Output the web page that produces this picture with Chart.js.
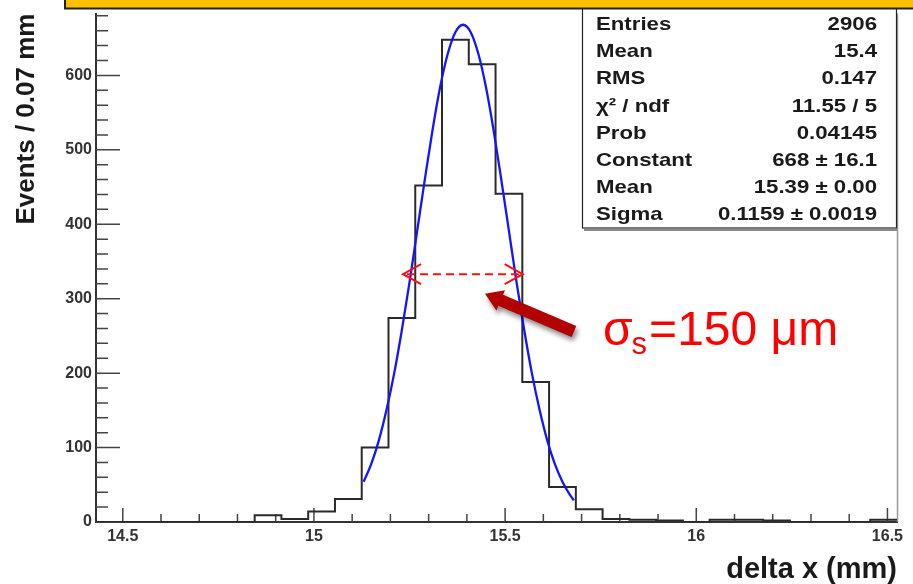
<!DOCTYPE html>
<html>
<head>
<meta charset="utf-8">
<script src="https://cdn.jsdelivr.net/npm/chart.js@4.4.1/dist/chart.umd.min.js"></script>
<style>
  html, body { margin: 0; padding: 0; background: #ffffff; }
  canvas { display: block; }
</style>
</head>
<body>
<canvas id="c" width="913" height="584"></canvas>
<script>
// ---------- DATA ----------
// histogram bin edges (delta x, mm), 0.07 mm bins
const binEdges = [14.425, 14.495, 14.565, 14.635, 14.705, 14.775, 14.845, 14.915, 14.985, 15.055,
                  15.125, 15.195, 15.265, 15.335, 15.405, 15.475, 15.545, 15.615, 15.685, 15.755,
                  15.825, 15.895, 15.965, 16.035, 16.105, 16.175, 16.245, 16.315, 16.385, 16.455, 16.525];
// events per bin
const binCounts = [0, 0, 0, 0, 0, 0, 9, 4, 14, 31,
                   100, 274, 452, 648, 615, 441, 188, 47, 17, 4,
                   3, 2, 0, 3, 3, 2, 0, 0, 0, 3];
// gaussian fit curve
const fitX = [15.13, 15.15, 15.17, 15.19, 15.21, 15.23, 15.25, 15.27, 15.29, 15.31, 15.33, 15.35, 15.37, 15.39,
              15.41, 15.43, 15.45, 15.47, 15.49, 15.51, 15.53, 15.55, 15.57, 15.59, 15.61, 15.63, 15.65, 15.67, 15.68];
const fitY = [54, 78, 110, 151, 200, 258, 322, 391, 460, 526, 584, 629, 658, 668,
              658, 629, 584, 526, 460, 391, 322, 258, 200, 151, 110, 78, 54, 36, 29];
// tick labels
const xTickValues = [14.5, 15, 15.5, 16, 16.5];
const yTickValues = [0, 100, 200, 300, 400, 500, 600];
// statistics box
const statLabels = ['Entries', 'Mean', 'RMS', 'χ² / ndf', 'Prob', 'Constant', 'Mean', 'Sigma'];
const statValues = ['2906', '15.4', '0.147', '11.55 / 5', '0.04145', '668 ± 16.1', '15.39 ± 0.00', '0.1159 ± 0.0019'];
// annotation (FWHM arrow and label)
const fwhmArrow = { x0: 15.233, x1: 15.546, y: 333 };
const pointerArrow = { tailX: 15.68, tailY: 256, tipX: 15.4475, tipY: 306.7 };
const sigmaLabel = { x: 15.756, y: 237.3, main: 'σ', sub: 's', rest: '=150 μm' };

// ---------- build datasets ----------
// each point = left edge of a bin with that bin's count; the final edge repeats the last count
const histPoints = binEdges.map((e, i) => ({ x: e, y: binCounts[Math.min(i, binCounts.length - 1)] }));
const fitPoints = fitX.map((x, i) => ({ x: x, y: fitY[i] }));

const FONT = '"Liberation Sans", Arial, Helvetica, sans-serif';

const decor = {
  id: 'decor',
  beforeDraw(chart) {
    const ctx = chart.ctx;
    ctx.save();
    ctx.fillStyle = '#ffffff';
    ctx.fillRect(0, 0, chart.width, chart.height);
    ctx.restore();
  },
  beforeDatasetsDraw(chart) {
    const ctx = chart.ctx, xs = chart.scales.x, ys = chart.scales.y;
    const ca = chart.chartArea;
    ctx.save();
    // right frame line
    ctx.strokeStyle = '#9a9a9a';
    ctx.lineWidth = 1.5;
    ctx.beginPath();
    ctx.moveTo(ca.right + 0.5, ca.top);
    ctx.lineTo(ca.right + 0.5, ca.bottom);
    ctx.stroke();
    // tick marks (inside the frame)
    ctx.strokeStyle = '#444';
    ctx.lineWidth = 1.5;
    ctx.beginPath();
    for (let v = 0; v <= ys.max; v += 20) {
      const p = ys.getPixelForValue(v);
      const len = (v % 100 === 0) ? 24 : 12;
      ctx.moveTo(ca.left, p);
      ctx.lineTo(ca.left + len, p);
    }
    for (let k = 145; k <= 165; k++) {
      const v = k / 10;
      const p = xs.getPixelForValue(v);
      const len = (k % 5 === 0) ? 14 : 8;
      ctx.moveTo(p, ca.bottom);
      ctx.lineTo(p, ca.bottom - len);
    }
    ctx.stroke();
    ctx.restore();
  },
  afterDatasetsDraw(chart) {
    const ctx = chart.ctx, xs = chart.scales.x, ys = chart.scales.y;
    ctx.save();
    // ---- FWHM dashed double arrow ----
    const xl = xs.getPixelForValue(fwhmArrow.x0);
    const xr = xs.getPixelForValue(fwhmArrow.x1);
    const yy = ys.getPixelForValue(fwhmArrow.y);
    ctx.strokeStyle = '#ff1010';
    ctx.lineWidth = 2;
    ctx.setLineDash([8, 5]);
    ctx.beginPath();
    ctx.moveTo(xl + 4, yy);
    ctx.lineTo(xr - 4, yy);
    ctx.stroke();
    ctx.setLineDash([]);
    ctx.beginPath();
    ctx.moveTo(xl + 18, yy - 10); ctx.lineTo(xl, yy); ctx.lineTo(xl + 18, yy + 10);
    ctx.moveTo(xr - 18, yy - 10); ctx.lineTo(xr, yy); ctx.lineTo(xr - 18, yy + 10);
    ctx.stroke();

    // ---- thick dark-red pointer arrow ----
    const tx = xs.getPixelForValue(pointerArrow.tailX), ty = ys.getPixelForValue(pointerArrow.tailY);
    const hx = xs.getPixelForValue(pointerArrow.tipX), hy = ys.getPixelForValue(pointerArrow.tipY);
    const dx = hx - tx, dy = hy - ty, L = Math.hypot(dx, dy);
    const ux = dx / L, uy = dy / L, nx = -uy, ny = ux;
    const sw = 6, hw = 11, hl = 17;
    const bx = hx - ux * hl, by = hy - uy * hl;
    ctx.save();
    ctx.shadowColor = 'rgba(0,0,0,0.45)';
    ctx.shadowBlur = 5;
    ctx.shadowOffsetX = 2;
    ctx.shadowOffsetY = 4;
    ctx.fillStyle = '#b20000';
    ctx.beginPath();
    ctx.moveTo(tx + nx * sw, ty + ny * sw);
    ctx.lineTo(bx + nx * sw, by + ny * sw);
    ctx.lineTo(bx + nx * hw, by + ny * hw);
    ctx.lineTo(hx, hy);
    ctx.lineTo(bx - nx * hw, by - ny * hw);
    ctx.lineTo(bx - nx * sw, by - ny * sw);
    ctx.lineTo(tx - nx * sw, ty - ny * sw);
    ctx.closePath();
    ctx.fill();
    ctx.restore();

    // ---- sigma label ----
    let lx = xs.getPixelForValue(sigmaLabel.x);
    const ly = ys.getPixelForValue(sigmaLabel.y);
    ctx.fillStyle = '#ff0000';
    ctx.textBaseline = 'alphabetic';
    ctx.textAlign = 'left';
    ctx.font = '48px ' + FONT;
    ctx.fillText(sigmaLabel.main, lx, ly);
    lx += ctx.measureText(sigmaLabel.main).width - 1;
    ctx.font = '31px ' + FONT;
    ctx.fillText(sigmaLabel.sub, lx, ly + 9);
    lx += ctx.measureText(sigmaLabel.sub).width + 2;
    ctx.font = '48px ' + FONT;
    ctx.fillText(sigmaLabel.rest, lx, ly);

    // ---- statistics box ----
    const bxL = 582, bxR = 896, bxB = 228;
    ctx.fillStyle = '#ffffff';
    ctx.fillRect(bxL, 0, bxR - bxL, bxB);
    ctx.strokeStyle = '#222';
    ctx.lineWidth = 1.2;
    ctx.strokeRect(bxL + 0.5, -2, bxR - bxL, bxB + 2);
    ctx.strokeStyle = '#888';
    ctx.lineWidth = 2;
    ctx.beginPath();
    ctx.moveTo(bxL + 2, bxB + 2); ctx.lineTo(bxR + 1, bxB + 2);
    ctx.stroke();
    ctx.fillStyle = '#1a1a1a';
    ctx.textBaseline = 'middle';
    ctx.font = 'bold 18.5px ' + FONT;
    for (let i = 0; i < statLabels.length; i++) {
      const ry = 25 + i * 27.2;
      ctx.save();
      ctx.translate(596, ry);
      ctx.scale(1.2, 1);
      ctx.textAlign = 'left';
      ctx.fillText(statLabels[i], 0, 0);
      ctx.restore();
      ctx.save();
      ctx.translate(877, ry);
      ctx.scale(1.2, 1);
      ctx.textAlign = 'right';
      ctx.fillText(statValues[i], 0, 0);
      ctx.restore();
    }
    ctx.restore();
  },
  afterDraw(chart) {
    const ctx = chart.ctx;
    ctx.save();
    // orange banner at the top
    ctx.fillStyle = '#ffc000';
    ctx.fillRect(65, -2, chart.width - 63, 10);
    ctx.strokeStyle = '#222';
    ctx.lineWidth = 2;
    ctx.beginPath();
    ctx.moveTo(65, -2); ctx.lineTo(65, 8.5); ctx.lineTo(chart.width + 2, 8.5);
    ctx.stroke();
    ctx.restore();
  }
};

new Chart(document.getElementById('c'), {
  type: 'line',
  data: {
    datasets: [
      {
        label: 'fit',
        data: fitPoints,
        borderColor: '#1414ff',
        borderWidth: 2.3,
        pointRadius: 0,
        fill: false,
        cubicInterpolationMode: 'monotone',
        tension: 0.4
      },
      {
        label: 'histogram',
        data: histPoints,
        borderColor: '#2a2a2a',
        borderWidth: 2,
        pointRadius: 0,
        fill: false,
        stepped: 'before'
      }
    ]
  },
  options: {
    responsive: false,
    animation: false,
    events: [],
    layout: { padding: { top: 10, right: 16, left: 0, bottom: 0 } },
    plugins: { legend: { display: false }, tooltip: { enabled: false }, title: { display: false } },
    scales: {
      x: {
        type: 'linear',
        min: 14.43,
        max: 16.525,
        afterFit(scale) { scale.height = 62; },
        afterBuildTicks(scale) { scale.ticks = xTickValues.map(v => ({ value: v })); },
        grid: { display: false, drawTicks: false },
        border: { display: true, color: '#333', width: 2 },
        ticks: {
          padding: 5,
          maxRotation: 0,
          autoSkip: false,
          color: '#333',
          font: { family: FONT, weight: 'bold', size: 16 },
          callback: v => String(v)
        },
        title: {
          display: true,
          text: 'delta x (mm)',
          align: 'end',
          color: '#1a1a1a',
          font: { family: FONT, weight: 'bold', size: 29, lineHeight: 1 },
          padding: { top: 0, bottom: 0 }
        }
      },
      y: {
        type: 'linear',
        min: 0,
        max: 683,
        afterFit(scale) { scale.width = 96; },
        afterBuildTicks(scale) { scale.ticks = yTickValues.map(v => ({ value: v })); },
        grid: { display: false, drawTicks: false },
        border: { display: true, color: '#333', width: 2 },
        ticks: {
          padding: 4,
          color: '#333',
          font: { family: FONT, weight: 'bold', size: 16 },
          callback: v => String(v)
        },
        title: {
          display: true,
          text: 'Events / 0.07 mm',
          align: 'end',
          color: '#1a1a1a',
          font: { family: FONT, weight: 'bold', size: 26 },
          padding: { top: 11, bottom: 0 }
        }
      }
    }
  },
  plugins: [decor]
});
</script>
</body>
</html>
